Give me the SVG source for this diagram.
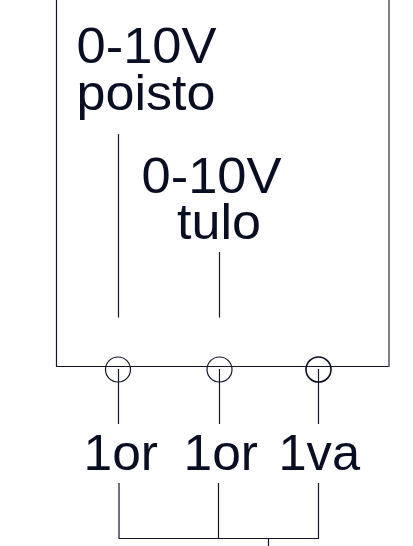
<svg xmlns="http://www.w3.org/2000/svg" width="413" height="546" viewBox="0 0 413 546">
<style>
.l{stroke:#14172b;stroke-width:1.200;fill:none}
.t{font-family:"Liberation Sans",Arial,sans-serif;font-size:50.500px;fill:#0a0e22}
</style>
<rect width="413" height="546" fill="#fff"/>
<g id="connectors">
<path class="l" d="M56.500 0V366.500H389"/>
<path d="M389 0V367" fill="none" stroke="#55576a" stroke-width="1.500"/>
<path class="l" d="M118.500 134V317.500M219.500 252V317.500M118.500 369V424M219.500 369V424M318.500 369V424"/>
<path class="l" d="M119 483V538.500H318.500V483M218.500 483V538.500M268.500 538.500V546"/>
</g>
<g id="n1"><circle class="l" cx="118" cy="369.500" r="12.500"/></g>
<g id="n2"><circle class="l" cx="219.500" cy="369.500" r="12.500"/></g>
<g id="n3"><circle cx="318.500" cy="369.500" r="12.500" fill="none" stroke="#0a0e22" stroke-width="1.600"/></g>
<g id="label1"><text class="t" x="76.500" y="63" textLength="140" lengthAdjust="spacingAndGlyphs">0-10V</text><text class="t" x="76.500" y="110" textLength="139" lengthAdjust="spacingAndGlyphs">poisto</text></g>
<g id="label2"><text class="t" x="141.500" y="192.500" textLength="140" lengthAdjust="spacingAndGlyphs">0-10V</text><text class="t" x="177" y="239" textLength="84" lengthAdjust="spacingAndGlyphs">tulo</text></g>
<g id="term1"><text class="t" x="83.500" y="470" textLength="74.500" lengthAdjust="spacingAndGlyphs">1or</text></g>
<g id="term2"><text class="t" x="183.500" y="470" textLength="74.500" lengthAdjust="spacingAndGlyphs">1or</text></g>
<g id="term3"><text class="t" x="278.500" y="470" textLength="81.500" lengthAdjust="spacingAndGlyphs">1va</text></g>
</svg>
